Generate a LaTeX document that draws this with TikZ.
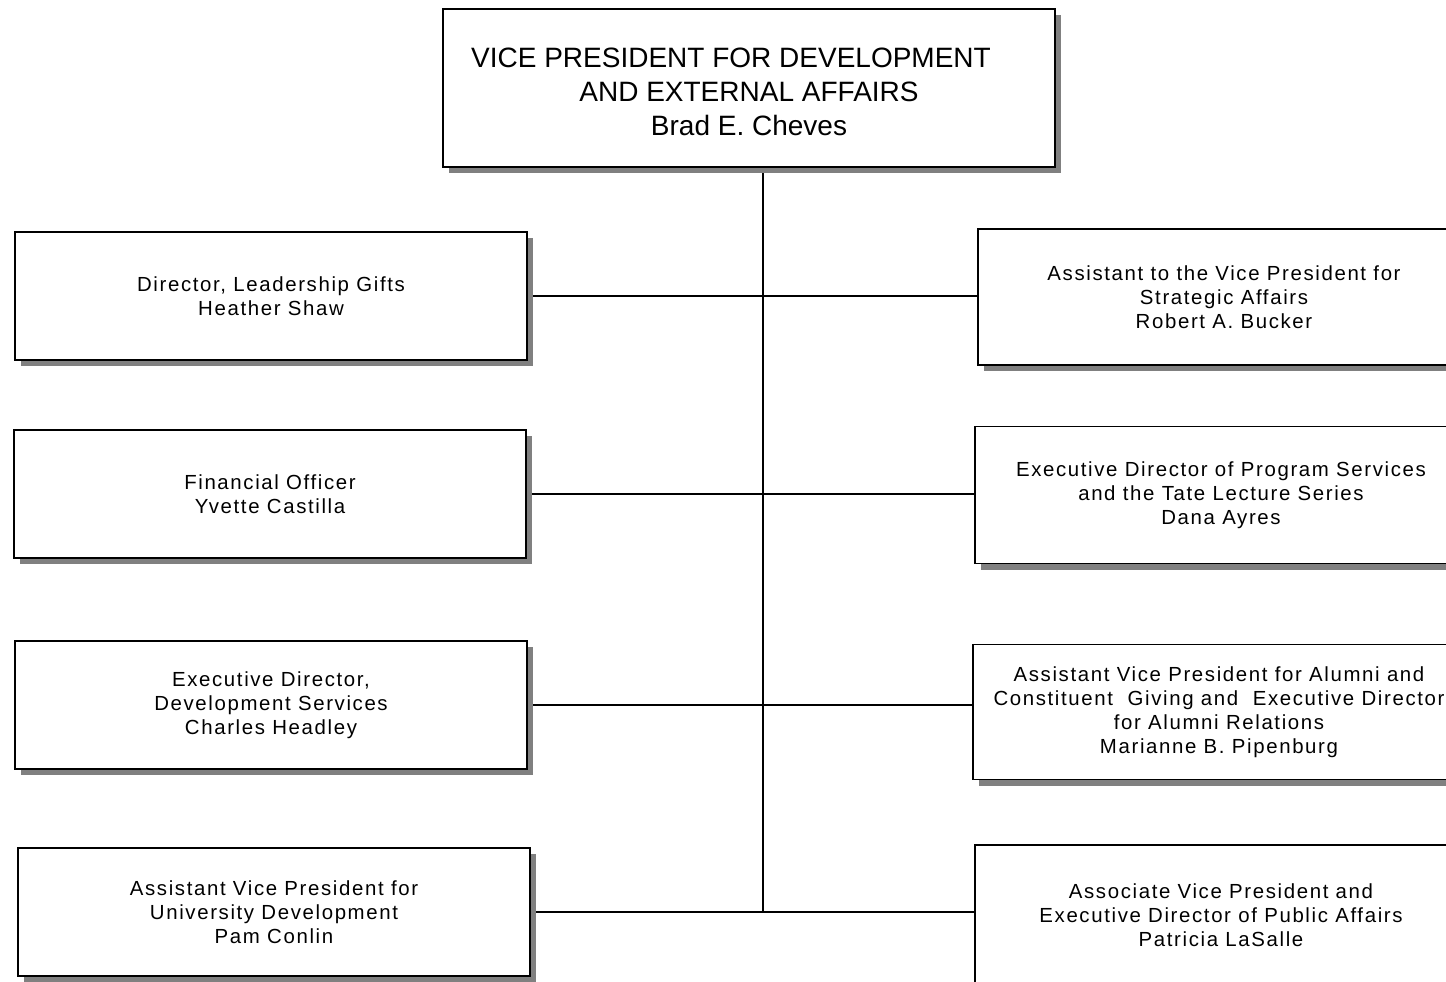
\documentclass[tikz,border=0pt]{standalone}
\usepackage{fontspec}
\setmainfont{Liberation Sans}
\newfontfamily\boxfont{Liberation Sans}[LetterSpace=8]
\usetikzlibrary{shadows,backgrounds}

\begin{document}
\begin{tikzpicture}[x=0.5pt, y=-0.5pt,
            box/.style={rectangle, draw, line width=0.9pt, fill=white, inner sep=0pt, text centered, align=center,
                        font=\boxfont\fontsize{10.2}{12}\selectfont, minimum width=256pt, minimum height=64pt,
                        drop shadow={shadow xshift=3pt, shadow yshift=-3pt, fill=black!50, opacity=1}},
            rbox/.style={box, minimum width=246pt},
            head/.style={box, minimum width=306pt, minimum height=79pt, font=\fontsize{14}{17}\selectfont},
            link/.style={line width=0.8pt}
        ]
            \useasboundingbox (0,0) rectangle (1446,981);
            \clip (0,0) rectangle (1446,981);

            \node[head] (vp) at (749,88) {\rule{0pt}{14pt}VICE PRESIDENT FOR DEVELOPMENT\hspace*{18pt}\\AND EXTERNAL AFFAIRS\hspace*{18pt}\\Brad E. Cheves};

            \node[box] (gifts) at (271,296) {Director, Leadership Gifts\\Heather Shaw};
            \node[box] (finance) at (270,494) {Financial Officer\\Yvette Castilla};
            \node[box] (devserv) at (271,705) {Executive Director,\\Development Services\\Charles Headley};
            \node[box] (univdev) at (274,912) {Assistant Vice President for\\University Development\\Pam Conlin};

            \node[rbox, minimum height=68pt] (strategic) at (1224,297) {Assistant to the Vice President for\\Strategic Affairs\\Robert A. Bucker};
            \node[rbox, minimum height=68.5pt] (program) at (1221,495) {Executive Director of Program Services\\and the Tate Lecture Series\\Dana Ayres};
            \node[rbox, minimum height=67.5pt] (alumni) at (1219,712) {Assistant Vice President for Alumni and\\Constituent~~Giving and~~Executive Director\\for Alumni Relations\\Marianne B. Pipenburg};
            \node[rbox, minimum height=70pt] (public) at (1221,915) {Associate Vice President and\\Executive Director of Public Affairs\\Patricia LaSalle};

            \coordinate (trunktop) at ([xshift=7pt]vp.south);
            \coordinate (trunkend) at (trunktop |- univdev.east);

            \begin{pgfonlayer}{background}
            \draw[link] (trunktop) -- (trunkend);
            \draw[link] (gifts.east) -- (gifts.east -| strategic.west);
            \draw[link] (finance.east) -- (finance.east -| program.west);
            \draw[link] (devserv.east) -- (devserv.east -| alumni.west);
            \draw[link] (univdev.east) -- (univdev.east -| public.west);
            \end{pgfonlayer}
        \end{tikzpicture}
\end{document}
